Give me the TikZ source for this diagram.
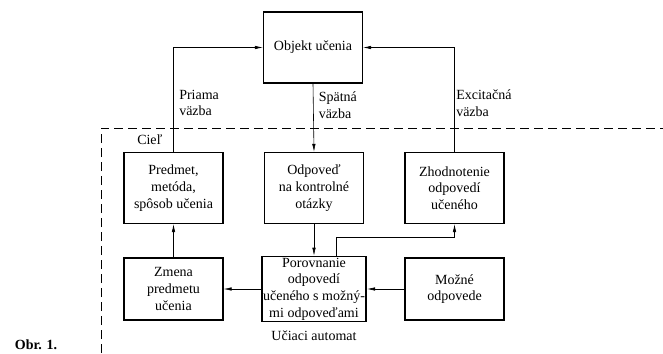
\documentclass[tikz,border=0pt]{standalone}
\usepackage{fontspec}
\setmainfont{Liberation Serif}
\usetikzlibrary{arrows.meta}
\newcommand{\boxw}{74pt}

\begin{document}
\begin{tikzpicture}[x=0.75pt,y=-0.75pt,
  font=\fontsize{10.5}{12.5}\selectfont,
  blok/.style={draw,line width=1.2pt,align=center,inner sep=1pt,minimum width=\boxw},
  vyssi/.style={blok,minimum height=53pt},
  nizsi/.style={blok,minimum height=46.5pt},
  sip/.style={-{Latex[length=6pt,width=2.6pt]},line width=0.45pt},
  popis/.style={align=left,anchor=west,inner sep=0pt}]
\useasboundingbox (0,0) rectangle (663,353);
%\draw[help lines,step=50](0,0)grid(663,353);
% ohranicenie automatu
\draw[dash pattern=on 7pt off 3.5pt,line width=0.45pt] (101,353)--(101,128)--(663,128);
% bloky
\node[vyssi] (obj) at (313,47.5) {Objekt učenia};
\node[vyssi] (pred) at (173.5,188) {Predmet,\\metóda,\\spôsob učenia};
\node[vyssi] (odp) at (314,188) {Odpoveď\\na kontrolné\\otázky};
\node[vyssi] (zhod) at (454.5,188) {Zhodnotenie\\odpovedí\\učeného};
\node[nizsi] (zmena) at (173.5,289) {Zmena\\predmetu\\učenia};
\node[nizsi] (porov) at (314,289) {Porovnanie\\odpovedí\\učeného s možný-\\mi odpoveďami};
\node[nizsi] (mozne) at (454.5,289) {Možné\\odpovede};
% vazby
\draw[sip] (pred.north) |- (obj.west);
\draw[sip] (zhod.north) |- (obj.east);
\draw[sip] (obj.south) -- (odp.north);
\draw[sip] (zmena.north) -- (pred.south);
\draw[sip] (odp.south) -- (porov.north);
\draw[sip] ([xshift=16.5pt]porov.north) -- ++(0,-18) -| (zhod.south);
\draw[sip] (mozne.west) -- (porov.east);
\draw[sip] (porov.west) -- (zmena.east);
% popisy
\node[popis] (priama) at (179,103) {Priama\\väzba};
\node[popis] (spatna) at (318.5,105) {Spätná\\väzba};
\node[popis] (excit) at (456,103) {Excitačná\\väzba};
\node[popis] (ciel) at (137,140) {Cieľ};
\node (automat) at (314,336) {Učiaci automat};
\node[font=\fontsize{10.5}{12.5}\selectfont\bfseries] (obr) at (36,345) {Obr. 1.};
\end{tikzpicture}
\end{document}
